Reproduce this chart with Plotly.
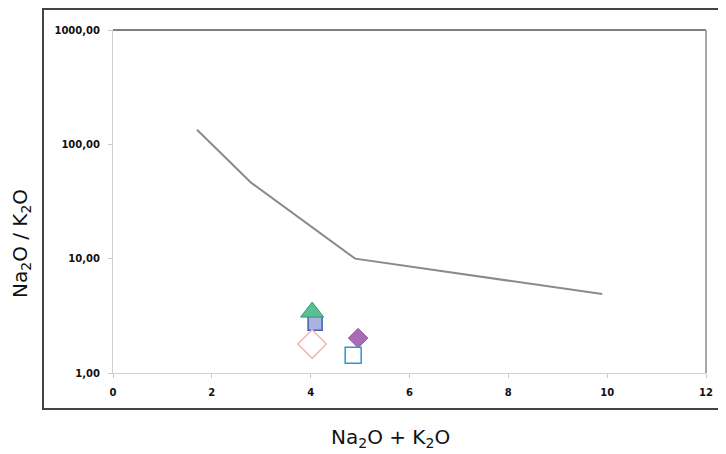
import plotly.graph_objects as go

# Boundary line data
line_x = [1.7, 2.8, 4.9, 9.9]
line_y = [134, 46, 10, 4.9]

# Sample points
sq_fill_x = [4.09]
sq_fill_y = [2.73]
tri_x = [4.03]
tri_y = [3.41]
dia_open_x = [4.03]
dia_open_y = [1.79]
dia_fill_x = [4.96]
dia_fill_y = [2.02]
sq_open_x = [4.86]
sq_open_y = [1.43]

y_tickvals = [1, 10, 100, 1000]
y_ticktext = ["1,00", "10,00", "100,00", "1000,00"]
x_tickvals = [0, 2, 4, 6, 8, 10, 12]

fig = go.Figure()
fig.add_trace(go.Scatter(x=line_x, y=line_y, mode="lines",
                         line=dict(color="#8a8a8a", width=2), showlegend=False))
fig.add_trace(go.Scatter(x=sq_fill_x, y=sq_fill_y, mode="markers",
                         marker=dict(symbol="square", size=14, color="#a9b3e0",
                                     line=dict(color="#3f5fb8", width=1.5)), showlegend=False))
fig.add_trace(go.Scatter(x=tri_x, y=tri_y, mode="markers",
                         marker=dict(symbol="triangle-up", size=20, color="#5cbf94",
                                     line=dict(color="#2e9a6e", width=1)), showlegend=False))
fig.add_trace(go.Scatter(x=dia_open_x, y=dia_open_y, mode="markers",
                         marker=dict(symbol="diamond-open", size=22, color="#f4b4b4",
                                     line=dict(width=1.5)), showlegend=False))
fig.add_trace(go.Scatter(x=dia_fill_x, y=dia_fill_y, mode="markers",
                         marker=dict(symbol="diamond", size=15, color="#a86bb5",
                                     line=dict(color="#9a5aa8", width=1)), showlegend=False))
fig.add_trace(go.Scatter(x=sq_open_x, y=sq_open_y, mode="markers",
                         marker=dict(symbol="square-open", size=16, color="#2f95d8",
                                     line=dict(width=1.5)), showlegend=False))

tick_font = dict(family="DejaVu Sans", size=10, color="#111111", weight="bold")

# page is offset by the 8px body margin; plot area at page x 113..706, y 30..373
fig.update_layout(
    width=718, height=446,
    margin=dict(l=105, r=20, t=22, b=81),
    plot_bgcolor="white", paper_bgcolor="white",
    xaxis=dict(range=[0, 12], tickvals=x_tickvals, ticks="outside", ticklen=4,
               tickcolor="#c8c8c8", showgrid=False, zeroline=False,
               showline=True, linecolor="#d0d0d0", linewidth=1,
               tickfont=tick_font, ticklabelstandoff=6),
    yaxis=dict(type="log", range=[0, 3], tickvals=y_tickvals, ticktext=y_ticktext,
               ticks="outside", ticklen=4, tickcolor="#c8c8c8", showgrid=False,
               zeroline=False, showline=True, linecolor="#d0d0d0", linewidth=1,
               tickfont=tick_font, ticklabelstandoff=6),
    shapes=[
        dict(type="rect", xref="paper", yref="paper",
             x0=(43 - 113) / 593, x1=1.2, y0=(373 - 409) / 343, y1=(373 - 9) / 343,
             line=dict(color="#444444", width=2), fillcolor="rgba(0,0,0,0)", layer="below"),
        dict(type="line", xref="paper", yref="paper", x0=0, x1=1, y0=1, y1=1,
             line=dict(color="#555555", width=1.5)),
        dict(type="line", xref="paper", yref="paper", x0=1, x1=1, y0=0, y1=1,
             line=dict(color="#a8a8a8", width=2)),
    ],
    annotations=[
        dict(text="Na<sub>2</sub>O / K<sub>2</sub>O", xref="paper", yref="paper",
             x=(21 - 113) / 593, y=(373 - 244) / 343, textangle=-90, showarrow=False,
             xanchor="center", yanchor="middle",
             font=dict(family="DejaVu Sans", size=20, color="#111111")),
        dict(text="Na<sub>2</sub>O + K<sub>2</sub>O", xref="paper", yref="paper",
             x=(390 - 113) / 593, y=(373 - 438) / 343, showarrow=False,
             xanchor="center", yanchor="middle",
             font=dict(family="DejaVu Sans", size=20, color="#111111")),
    ],
)

fig.write_html("out.html")
